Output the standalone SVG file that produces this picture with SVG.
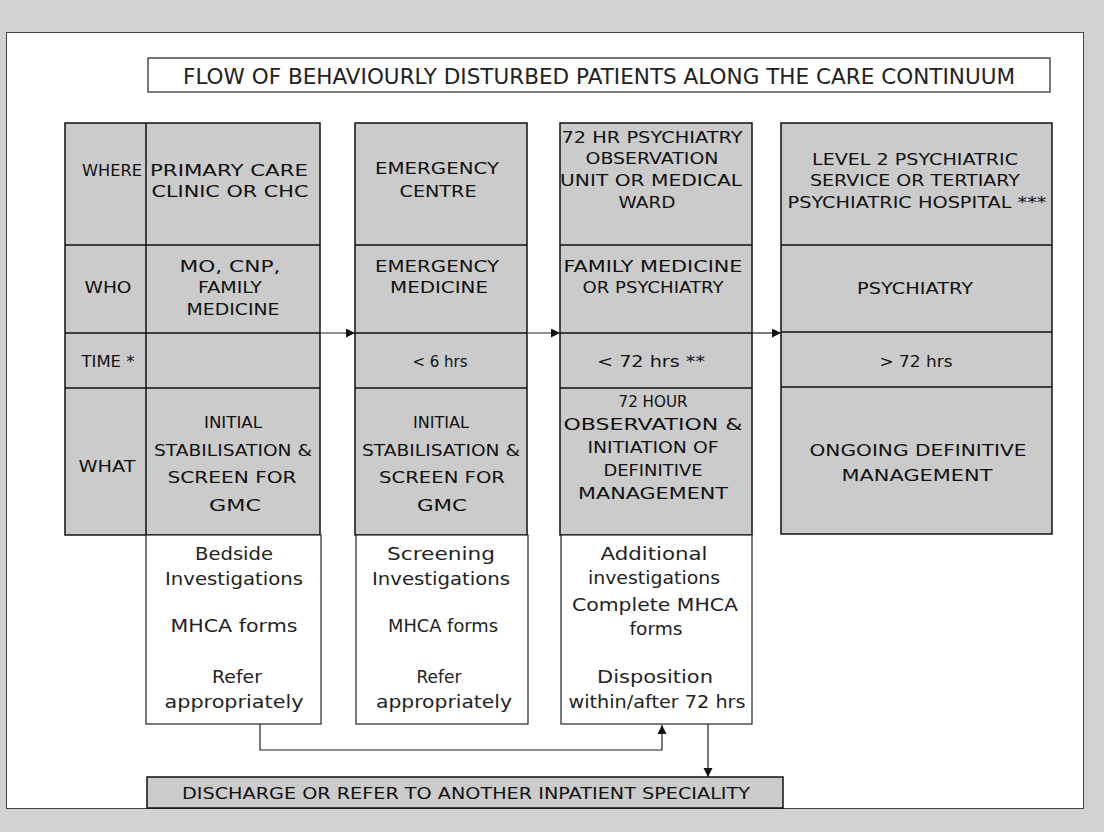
<svg xmlns="http://www.w3.org/2000/svg" width="1104" height="832" viewBox="0 0 1104 832">
<style>
.bg{fill:#d2d2d2}
.panel{fill:#ffffff;stroke:#444;stroke-width:1}
.cell{fill:#cbcbcb;stroke:#111;stroke-width:1.5}
.wbox{fill:#ffffff;stroke:#222;stroke-width:1.2}
.div{stroke:#111;stroke-width:1.5;fill:none}
text{font-family:"DejaVu Sans","Liberation Sans",sans-serif;fill:#111;text-anchor:middle}
.c{font-size:15px}
.w{font-size:16.5px}
.l{font-size:17px;fill:#222}
.ti{font-size:22px;fill:#222}
.conn{stroke:#222;stroke-width:1.2;fill:none}
</style>
<defs>
<marker id="ah" markerUnits="userSpaceOnUse" markerWidth="10" markerHeight="10" refX="9" refY="4.5" orient="auto">
<path d="M0,0 L9,4.5 L0,9 z" fill="#111"/>
</marker>
</defs>
<rect class="bg" x="0" y="0" width="1104" height="832"/>
<rect class="panel" x="6.5" y="32.5" width="1077" height="776"/>

<g id="title">
<rect x="148" y="58" width="902" height="34" fill="#fff" stroke="#222" stroke-width="1.2"/>
<text class="ti" x="599" y="84" textLength="832" lengthAdjust="spacingAndGlyphs">FLOW OF BEHAVIOURLY DISTURBED PATIENTS ALONG THE CARE CONTINUUM</text>
</g>

<g id="col1">
<rect class="cell" x="65" y="123" width="255" height="412"/>
<line class="div" x1="146" y1="123" x2="146" y2="535"/>
<line class="div" x1="65" y1="245" x2="320" y2="245"/>
<line class="div" x1="65" y1="333" x2="320" y2="333"/>
<line class="div" x1="65" y1="388" x2="320" y2="388"/>
<text class="c" x="112" y="176" textLength="60" lengthAdjust="spacingAndGlyphs">WHERE</text>
<text class="c" x="229" y="176" textLength="158" lengthAdjust="spacingAndGlyphs">PRIMARY CARE</text>
<text class="c" x="230" y="197" textLength="157" lengthAdjust="spacingAndGlyphs">CLINIC OR CHC</text>
<text class="c" x="108" y="293" textLength="47" lengthAdjust="spacingAndGlyphs">WHO</text>
<text class="c" x="230" y="272" textLength="101" lengthAdjust="spacingAndGlyphs">MO, CNP,</text>
<text class="c" x="230" y="293" textLength="64" lengthAdjust="spacingAndGlyphs">FAMILY</text>
<text class="c" x="233" y="315" textLength="93" lengthAdjust="spacingAndGlyphs">MEDICINE</text>
<text class="c" x="108" y="367" textLength="53" lengthAdjust="spacingAndGlyphs">TIME *</text>
<text class="c" x="107" y="472" textLength="57" lengthAdjust="spacingAndGlyphs">WHAT</text>
<text class="w" x="233" y="428" textLength="58" lengthAdjust="spacingAndGlyphs">INITIAL</text>
<text class="w" x="233" y="456" textLength="158" lengthAdjust="spacingAndGlyphs">STABILISATION &amp;</text>
<text class="w" x="232" y="483" textLength="129" lengthAdjust="spacingAndGlyphs">SCREEN FOR</text>
<text class="w" x="235" y="511" textLength="52" lengthAdjust="spacingAndGlyphs">GMC</text>
<rect class="wbox" x="146" y="535" width="175" height="189"/>
<text class="l" x="234" y="560" textLength="78" lengthAdjust="spacingAndGlyphs">Bedside</text>
<text class="l" x="234" y="585" textLength="138" lengthAdjust="spacingAndGlyphs">Investigations</text>
<text class="l" x="234" y="632" textLength="127" lengthAdjust="spacingAndGlyphs">MHCA forms</text>
<text class="l" x="237" y="683" textLength="50" lengthAdjust="spacingAndGlyphs">Refer</text>
<text class="l" x="234" y="708" textLength="139" lengthAdjust="spacingAndGlyphs">appropriately</text>
</g>

<g id="col2">
<rect class="cell" x="355" y="123" width="172" height="412"/>
<line class="div" x1="355" y1="245" x2="527" y2="245"/>
<line class="div" x1="355" y1="333" x2="527" y2="333"/>
<line class="div" x1="355" y1="388" x2="527" y2="388"/>
<text class="c" x="437" y="174" textLength="124" lengthAdjust="spacingAndGlyphs">EMERGENCY</text>
<text class="c" x="438" y="197" textLength="77" lengthAdjust="spacingAndGlyphs">CENTRE</text>
<text class="c" x="437" y="272" textLength="124" lengthAdjust="spacingAndGlyphs">EMERGENCY</text>
<text class="c" x="439" y="293" textLength="98" lengthAdjust="spacingAndGlyphs">MEDICINE</text>
<text class="c" x="440" y="367" textLength="55" lengthAdjust="spacingAndGlyphs">&lt; 6 hrs</text>
<text class="w" x="441" y="428" textLength="56" lengthAdjust="spacingAndGlyphs">INITIAL</text>
<text class="w" x="441" y="456" textLength="158" lengthAdjust="spacingAndGlyphs">STABILISATION &amp;</text>
<text class="w" x="442" y="483" textLength="126" lengthAdjust="spacingAndGlyphs">SCREEN FOR</text>
<text class="w" x="442" y="511" textLength="50" lengthAdjust="spacingAndGlyphs">GMC</text>
<rect class="wbox" x="356" y="535" width="172" height="189"/>
<text class="l" x="441" y="560" textLength="108" lengthAdjust="spacingAndGlyphs">Screening</text>
<text class="l" x="441" y="585" textLength="138" lengthAdjust="spacingAndGlyphs">Investigations</text>
<text class="l" x="443" y="632" textLength="110" lengthAdjust="spacingAndGlyphs">MHCA forms</text>
<text class="l" x="439" y="683" textLength="45" lengthAdjust="spacingAndGlyphs">Refer</text>
<text class="l" x="444" y="708" textLength="136" lengthAdjust="spacingAndGlyphs">appropriately</text>
</g>

<g id="col3">
<rect class="cell" x="560" y="123" width="192" height="412"/>
<line class="div" x1="560" y1="245" x2="752" y2="245"/>
<line class="div" x1="560" y1="333" x2="752" y2="333"/>
<line class="div" x1="560" y1="388" x2="752" y2="388"/>
<text class="c" x="652" y="143" textLength="181" lengthAdjust="spacingAndGlyphs">72 HR PSYCHIATRY</text>
<text class="c" x="652" y="164" textLength="133" lengthAdjust="spacingAndGlyphs">OBSERVATION</text>
<text class="c" x="651" y="186" textLength="182" lengthAdjust="spacingAndGlyphs">UNIT OR MEDICAL</text>
<text class="c" x="647" y="208" textLength="57" lengthAdjust="spacingAndGlyphs">WARD</text>
<text class="c" x="653" y="272" textLength="179" lengthAdjust="spacingAndGlyphs">FAMILY MEDICINE</text>
<text class="c" x="653" y="293" textLength="141" lengthAdjust="spacingAndGlyphs">OR PSYCHIATRY</text>
<text class="c" x="651" y="367" textLength="108" lengthAdjust="spacingAndGlyphs">&lt; 72 hrs **</text>
<text class="w" x="653" y="407" textLength="69" lengthAdjust="spacingAndGlyphs">72 HOUR</text>
<text class="w" x="653" y="430" textLength="179" lengthAdjust="spacingAndGlyphs">OBSERVATION  &amp;</text>
<text class="w" x="653" y="453" textLength="131" lengthAdjust="spacingAndGlyphs">INITIATION OF</text>
<text class="w" x="653" y="476" textLength="99" lengthAdjust="spacingAndGlyphs">DEFINITIVE</text>
<text class="w" x="653" y="499" textLength="150" lengthAdjust="spacingAndGlyphs">MANAGEMENT</text>
<rect class="wbox" x="561" y="535" width="191" height="189"/>
<text class="l" x="654" y="560" textLength="107" lengthAdjust="spacingAndGlyphs">Additional</text>
<text class="l" x="654" y="584" textLength="132" lengthAdjust="spacingAndGlyphs">investigations</text>
<text class="l" x="655" y="611" textLength="166" lengthAdjust="spacingAndGlyphs">Complete MHCA</text>
<text class="l" x="656" y="635" textLength="53" lengthAdjust="spacingAndGlyphs">forms</text>
<text class="l" x="655" y="683" textLength="116" lengthAdjust="spacingAndGlyphs">Disposition</text>
<text class="l" x="657" y="708" textLength="177" lengthAdjust="spacingAndGlyphs">within/after 72 hrs</text>
</g>

<g id="col4">
<rect class="cell" x="781" y="123" width="271" height="411"/>
<line class="div" x1="781" y1="245" x2="1052" y2="245"/>
<line class="div" x1="781" y1="332" x2="1052" y2="332"/>
<line class="div" x1="781" y1="387" x2="1052" y2="387"/>
<text class="c" x="915" y="165" textLength="206" lengthAdjust="spacingAndGlyphs">LEVEL 2 PSYCHIATRIC</text>
<text class="c" x="915" y="186" textLength="210" lengthAdjust="spacingAndGlyphs">SERVICE OR TERTIARY</text>
<text class="c" x="917" y="208" textLength="259" lengthAdjust="spacingAndGlyphs">PSYCHIATRIC HOSPITAL ***</text>
<text class="c" x="915" y="294" textLength="116" lengthAdjust="spacingAndGlyphs">PSYCHIATRY</text>
<text class="c" x="916" y="367" textLength="73" lengthAdjust="spacingAndGlyphs">&gt; 72 hrs</text>
<text class="w" x="918" y="456" textLength="217" lengthAdjust="spacingAndGlyphs">ONGOING DEFINITIVE</text>
<text class="w" x="917" y="481" textLength="151" lengthAdjust="spacingAndGlyphs">MANAGEMENT</text>
</g>

<g id="discharge">
<rect class="cell" x="147" y="777" width="636" height="31" stroke-width="1.2"/>
<text class="w" x="466" y="799" textLength="568" lengthAdjust="spacingAndGlyphs">DISCHARGE OR REFER TO ANOTHER INPATIENT SPECIALITY</text>
</g>

<g id="connectors">
<line class="conn" x1="320" y1="333" x2="355" y2="333" marker-end="url(#ah)"/>
<line class="conn" x1="527" y1="333" x2="560" y2="333" marker-end="url(#ah)"/>
<line class="conn" x1="752" y1="333" x2="781" y2="333" marker-end="url(#ah)"/>
<polyline class="conn" points="260,724 260,750 662,750 662,725" marker-end="url(#ah)"/>
<line class="conn" x1="708" y1="724" x2="708" y2="777" marker-end="url(#ah)"/>
</g>
</svg>
